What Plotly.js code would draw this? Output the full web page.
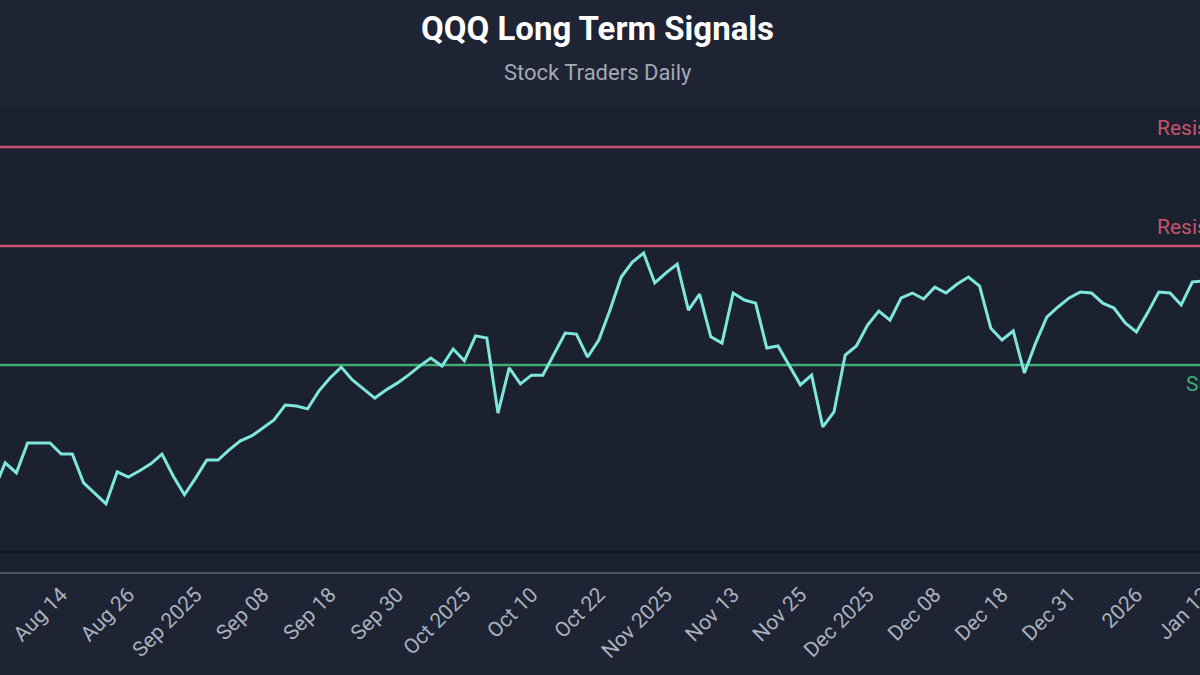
<!DOCTYPE html>
<html>
<head>
<meta charset="utf-8">
<script src="https://cdn.plot.ly/plotly-3.0.1.min.js"></script>
<style>
  html, body { margin: 0; padding: 0; width: 1200px; height: 675px; overflow: hidden; background: #1e2433; }
  #chart { position: absolute; left: -60px; top: 0; width: 1320px; height: 675px; }
</style>
</head>
<body>
<div id="chart"></div>
<script>
// QQQ closing prices (one point per bar)
const qqqPrice = [
  568.9, 576.7, 573.8, 582.4, 582.4, 582.4, 579.2, 579.2, 570.9, 568.0,
  564.9, 574.1, 572.6, 574.4, 576.4, 579.2, 572.9, 567.5, 572.3, 577.5,
  577.5, 580.4, 583.0, 584.4, 586.7, 589.0, 593.3, 593.0, 592.2, 597.3,
  601.1, 604.2, 600.5, 597.9, 595.3, 597.6, 599.6, 601.9, 604.5, 606.8,
  604.5, 609.4, 606.0, 613.2, 612.6, 591.0, 604.0, 599.4, 601.9, 601.9,
  608.0, 614.0, 613.7, 607.1, 612.0, 620.6, 630.1, 634.4, 637.0, 628.4,
  631.3, 633.8, 620.6, 625.2, 612.9, 611.1, 625.5, 623.5, 622.6, 609.7,
  610.3, 604.5, 599.1, 601.9, 587.0, 591.3, 607.7, 610.3, 616.3, 620.3,
  617.7, 624.1, 625.5, 623.8, 627.2, 625.5, 628.1, 630.1, 627.5, 615.4,
  612.0, 614.6, 602.5, 611.1, 618.6, 621.5, 624.1, 625.8, 625.5, 622.6,
  621.2, 616.9, 614.3, 619.8, 625.8, 625.5, 622.1, 628.7, 629.0
];

// x-axis tick labels (one every 6 bars, starting at bar 6)
const tickLabels = [
  "Aug 14", "Aug 26", "Sep 2025", "Sep 08", "Sep 18", "Sep 30",
  "Oct 2025", "Oct 10", "Oct 22", "Nov 2025", "Nov 13", "Nov 25",
  "Dec 2025", "Dec 08", "Dec 18", "Dec 31", "2026", "Jan 13"
];

// signal levels
const levelNames  = ["Resistance", "Resistance", "Support"];
const levelValues = [667.5, 639.0, 604.8];
const levelColors = ["#c9536f", "#c9536f", "#3fae74"];

const tickStart = 6, tickStep = 6;
const tickVals = tickLabels.map((_, k) => tickStart + k * tickStep);

const trace = {
  y: qqqPrice,
  type: "scatter",
  mode: "lines",
  line: { color: "#7fe6dc", width: 3 },
  hoverinfo: "y"
};

const shapes = levelValues.map((v, k) => ({
  type: "line", xref: "paper", x0: 0, x1: 1, yref: "y", y0: v, y1: v,
  line: { color: levelColors[k], width: 2.5 }, layer: "below"
}));
shapes.push({
  type: "line", xref: "paper", x0: 0, x1: 1, yref: "paper", y0: 20 / 464, y1: 20 / 464,
  line: { color: "#141823", width: 2 }, layer: "below"
});

const annotations = levelValues.map((v, k) => ({
  xref: "paper", x: 1, xanchor: "right", xshift: 7,
  yref: "y", y: v,
  yanchor: levelNames[k] === "Support" ? "top" : "bottom",
  yshift: levelNames[k] === "Support" ? -5 : 5,
  text: levelNames[k], showarrow: false,
  font: { family: "Roboto, sans-serif", size: 21, color: levelColors[k] }
}));
annotations.push({
  xref: "paper", x: 0.5, xanchor: "center",
  yref: "paper", y: 1 + 35 / 464, yanchor: "middle",
  text: "Stock Traders Daily", showarrow: false,
  font: { family: "Roboto, sans-serif", size: 22, color: "#a3a9b6" }
});

const layout = {
  width: 1320, height: 675,
  paper_bgcolor: "#1e2433",
  plot_bgcolor: "#1c2130",
  margin: { l: 0, r: 5, t: 108, b: 103, pad: 0 },
  showlegend: false,
  title: {
    text: "<b>QQQ Long Term Signals</b>",
    x: 0.5, xref: "paper", xanchor: "center",
    y: 1 - 28 / 675, yref: "container", yanchor: "middle",
    font: { family: "Roboto, sans-serif", size: 33, color: "#ffffff" }
  },
  xaxis: {
    range: [-54 / 11.2, 1261 / 11.2],
    tickmode: "array",
    tickvals: tickVals,
    ticktext: tickLabels,
    tickangle: -45,
    ticks: "",
    showgrid: false,
    zeroline: false,
    showline: true,
    linecolor: "#4a5162",
    linewidth: 2,
    tickfont: { family: "Roboto, sans-serif", size: 21, color: "#aab1be" }
  },
  yaxis: {
    range: [545.3, 678.7],
    showgrid: false,
    zeroline: false,
    showticklabels: false,
    showline: false
  },
  shapes: shapes,
  annotations: annotations
};

Plotly.newPlot("chart", [trace], layout, { displayModeBar: false, staticPlot: true });
</script>
</body>
</html>
